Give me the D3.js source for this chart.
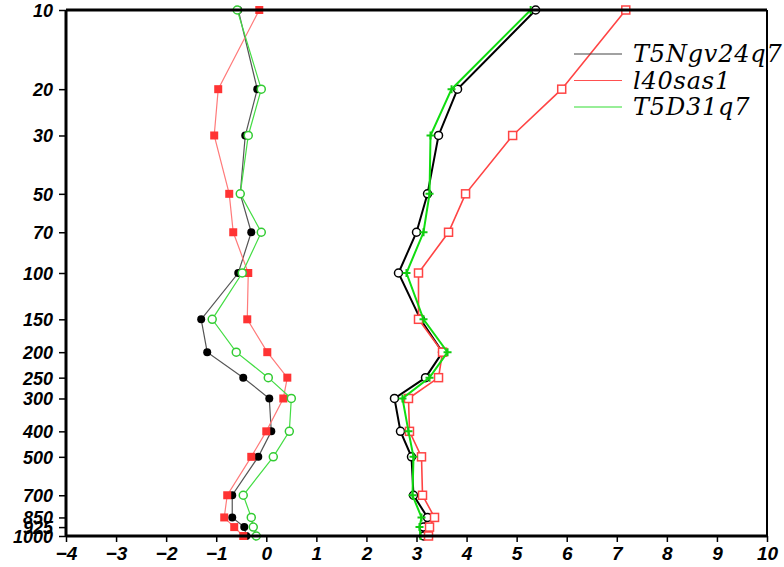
<!DOCTYPE html>
<html>
<head>
<meta charset="utf-8">
<script src="https://cdn.jsdelivr.net/npm/d3@7"></script>
<style>
  body { margin: 0; background: #fff; }
  text { font-family: "Liberation Sans", Arial, sans-serif; }
</style>
</head>
<body>
<script>
// pressure levels (hPa) and x ticks
var levels = [10, 20, 30, 50, 70, 100, 150, 200, 250, 300, 400, 500, 700, 850, 925, 1000];
var xTicks = [-4, -3, -2, -1, 0, 1, 2, 3, 4, 5, 6, 7, 8, 9, 10];
var names = ["T5Ngv24q7", "l40sas1", "T5D31q7"];

// bias profiles
var biasBlack = [-0.56, -0.18, -0.42, -0.52, -0.3, -0.56, -1.3, -1.18, -0.46, 0.06, 0.1, -0.16, -0.68, -0.68, -0.44, -0.4];
var biasRed = [-0.14, -0.96, -1.04, -0.74, -0.66, -0.36, -0.38, 0.02, 0.42, 0.34, 0.0, -0.3, -0.78, -0.84, -0.64, -0.46];
var biasGreen = [-0.58, -0.1, -0.36, -0.52, -0.1, -0.48, -1.08, -0.6, 0.04, 0.5, 0.46, 0.14, -0.46, -0.3, -0.26, -0.2];

// rms profiles
var rmsBlack = [5.38, 3.82, 3.44, 3.22, 3.0, 2.64, 3.08, 3.52, 3.18, 2.56, 2.68, 2.9, 2.94, 3.22, 3.14, 3.14];
var rmsRed = [7.18, 5.9, 4.92, 3.98, 3.64, 3.04, 3.04, 3.52, 3.44, 2.84, 2.86, 3.1, 3.12, 3.36, 3.26, 3.24];
var rmsGreen = [5.28, 3.7, 3.28, 3.26, 3.14, 2.8, 3.14, 3.62, 3.26, 2.72, 2.84, 2.94, 2.92, 3.1, 3.06, 3.08];

var W = 784, H = 567;
var mLeft = 66, mRight = 767, mTop = 10, mBottom = 536;

var svg = d3.select("body").append("svg").attr("width", W).attr("height", H);

var x = d3.scaleLinear().domain([-4, 10]).range([mLeft, mRight]);
var y = d3.scaleLog().domain([10, 1000]).range([mTop, mBottom]);

// clipped title, only descenders show
svg.append("text")
  .attr("x", 440).attr("y", -4)
  .attr("text-anchor", "middle")
  .style("font-size", "17px").style("font-weight", "bold").style("font-style", "italic")
  .text("Temperature, Bias/rms against sondes (K)");

var series = [
  { v: biasBlack, color: "#555", w: 1.2, mk: "dot", mc: "#000" },
  { v: biasRed, color: "#ff7a7a", w: 1.2, mk: "sq", mc: "#f33" },
  { v: biasGreen, color: "#44dd44", w: 1.2, mk: "ocirc", mc: "#33cc33" },
  { v: rmsBlack, color: "#000", w: 2, mk: "ocirc", mc: "#000" },
  { v: rmsRed, color: "#ff4444", w: 1.6, mk: "osq", mc: "#ff4444" },
  { v: rmsGreen, color: "#11dd11", w: 2, mk: "plus", mc: "#11cc11" }
];

var plot = svg.append("g");
var line = d3.line().x(function (d) { return x(d.v); }).y(function (d) { return y(d.p); });

series.forEach(function (s) {
  var pts = s.v.map(function (v, i) { return { v: v, p: levels[i] }; });
  plot.append("path").datum(pts)
    .attr("d", line).attr("fill", "none")
    .attr("stroke", s.color).attr("stroke-width", s.w);

  var g = plot.append("g");
  pts.forEach(function (d) {
    var cx = x(d.v), cy = y(d.p);
    if (s.mk == "dot") {
      g.append("circle").attr("cx", cx).attr("cy", cy).attr("r", 4).attr("fill", s.mc);
    } else if (s.mk == "ocirc") {
      g.append("circle").attr("cx", cx).attr("cy", cy).attr("r", 4)
        .attr("fill", "#fff").attr("stroke", s.mc).attr("stroke-width", 1.5);
    } else if (s.mk == "sq") {
      g.append("rect").attr("x", cx - 4).attr("y", cy - 4).attr("width", 8).attr("height", 8).attr("fill", s.mc);
    } else if (s.mk == "osq") {
      g.append("rect").attr("x", cx - 4).attr("y", cy - 4).attr("width", 8).attr("height", 8)
        .attr("fill", "#fff").attr("stroke", s.mc).attr("stroke-width", 1.5);
    } else {
      g.append("path").attr("d", "M" + (cx - 4) + "," + cy + "h8M" + cx + "," + (cy - 4) + "v8")
        .attr("stroke", s.mc).attr("stroke-width", 2);
    }
  });
});

// axes
var yAxis = svg.append("g").attr("transform", "translate(" + mLeft + ",0)")
  .call(d3.axisLeft(y).tickValues(levels).tickFormat(d3.format("d")).tickSize(7).tickPadding(6));
var xAxis = svg.append("g").attr("transform", "translate(0," + mBottom + ")")
  .call(d3.axisBottom(x).tickValues(xTicks).tickFormat(function (d) { return d < 0 ? "\u2212" + (-d) : d; }).tickSize(6).tickPadding(5));

[yAxis, xAxis].forEach(function (a) {
  a.select(".domain").remove();
  a.selectAll("line").attr("stroke", "#000").attr("stroke-width", 1.5);
  a.selectAll("text").attr("fill", "#000")
    .style("font-size", "18px").style("font-weight", "bold").style("font-style", "italic");
});
yAxis.selectAll("text").attr("dy", "0.36em");
xAxis.selectAll("text").style("font-size", "19px");

// frame
svg.append("line").attr("x1", mLeft).attr("x2", mRight).attr("y1", mTop).attr("y2", mTop).attr("stroke", "#000").attr("stroke-width", 3);
svg.append("line").attr("x1", mLeft).attr("x2", mRight).attr("y1", mBottom).attr("y2", mBottom).attr("stroke", "#000").attr("stroke-width", 3);
svg.append("line").attr("x1", mLeft).attr("x2", mLeft).attr("y1", mTop).attr("y2", mBottom).attr("stroke", "#000").attr("stroke-width", 3);
svg.append("line").attr("x1", mRight).attr("x2", mRight).attr("y1", mTop).attr("y2", mBottom).attr("stroke", "#000").attr("stroke-width", 2);

// legend
var legColors = ["#444", "#ff5050", "#33dd33"];
var leg = svg.append("g");
names.forEach(function (n, i) {
  var ly = 54 + i * 26.5;
  leg.append("line").attr("x1", 574).attr("x2", 622).attr("y1", ly).attr("y2", ly)
    .attr("stroke", legColors[i]).attr("stroke-width", 1.2);
  leg.append("text").attr("x", 633).attr("y", ly + 8)
    .style("font-family", "'DejaVu Serif', serif").style("font-style", "italic")
    .style("font-size", "24px").style("letter-spacing", "0.8px").attr("fill", "#000")
    .text(n);
});
</script>
</body>
</html>
